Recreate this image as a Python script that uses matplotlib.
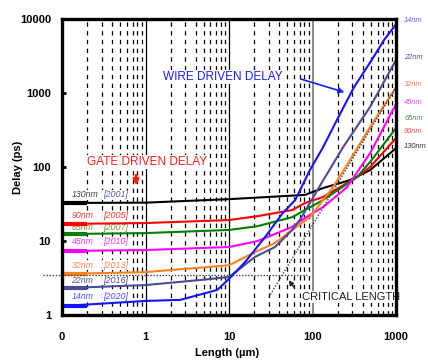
import matplotlib
matplotlib.use("Agg")
import matplotlib.pyplot as plt
import numpy as np

plt.rcParams["font.family"] = ["Liberation Sans", "DejaVu Sans"]

# wire length (um) and delay (ps), one pair per node
L_130 = [0.1, 1, 10, 81, 134, 281, 489, 1000]
D_130 = [32.7, 33, 36.8, 42, 52, 66.5, 91, 180]

L_90 = [0.1, 1, 10, 22, 57, 81, 134, 341, 489, 1000]
D_90 = [17, 17.5, 19.2, 21.7, 26.2, 32.6, 39.4, 73, 100, 246]

L_65 = [0.1, 1, 10, 22, 57, 81, 134, 341, 489, 1000]
D_65 = [12.4, 12.8, 14.1, 15.9, 21, 26.2, 35.8, 73, 117, 336]

L_45 = [0.1, 1, 10, 22, 57, 81, 134, 259, 489, 1000]
D_45 = [7.33, 7.55, 8.3, 10, 15.5, 20.5, 28.8, 53.5, 154, 710]

L_32 = [0.1, 1, 10, 20.5, 35.6, 57, 93, 176, 281, 489, 1000]
D_32 = [3.58, 3.8, 4.7, 7.1, 9.4, 14.1, 21, 53.5, 124, 348, 1200]

L_22 = [0.1, 1, 4.5, 10, 20.5, 35.6, 57, 71, 134, 232, 489, 1000]
D_22 = [2.3, 2.54, 2.97, 3.26, 6.1, 8.3, 14.1, 19.5, 66, 185, 650, 2800]

L_14 = [0.1, 1, 2.6, 7.2, 10, 15.6, 27, 44, 62, 93, 134, 213, 314, 501, 718, 1000]
D_14 = [1.32, 1.55, 1.6, 2.18, 3.07, 5.2, 11.3, 23.9, 35.8, 91, 186, 520, 1200, 2700, 5200, 8500]

nodes = ["130nm", "90nm", "65nm", "45nm", "32nm", "22nm", "14nm"]
years = ["[2001]", "[2005]", "[2007]", "[2010]", "[2013]", "[2016]", "[2020]"]
lengths = [L_130, L_90, L_65, L_45, L_32, L_22, L_14]
delays = [D_130, D_90, D_65, D_45, D_32, D_22, D_14]

# critical length guide lines
crit_L = [30, 1000]
crit_D = [1.75, 1200]
gate_level = 3.47
gate_level_end = 86

line_colors = ["black", "#ff0000", "#008000", "#ff00ff", "#ff7f1a", "#4b4b9b", "#1414ff"]
label_colors = ["#404040", "#ff3030", "#7f8a35", "#ff30ff", "#ff8050", "#505090", "#5050ff"]
year_colors = ["#5060a0", "#ff3030", "#7f8a35", "#ff30ff", "#ff8050", "#505090", "#5050ff"]
right_colors = ["#303030", "#ff4040", "#4f8f4f", "#ff40ff", "#ff8050", "#505090", "#6060ff"]

white_box = dict(facecolor="white", edgecolor="none", pad=0.6)

fig = plt.figure(figsize=(4.28, 3.6), dpi=100)
ax = fig.add_axes([0.1449, 0.125, 0.7804, 0.822])
ax.set_xscale("log")
ax.set_yscale("log")
ax.set_xlim(0.1, 1000)
ax.set_ylim(1, 10000)

# vertical grid: dashed minors, solid decades
for dec in [0.1, 1, 10, 100]:
    for k in range(2, 10):
        ax.axvline(k * dec, color="black", lw=0.9, ls=(0, (3.5, 3.5)), zorder=1)
ax.axvline(1, color="black", lw=0.9, zorder=1)
ax.axvline(10, color="black", lw=0.9, zorder=1)
ax.axvline(100, color="#808080", lw=1.3, zorder=1)

for L, D, c in zip(lengths, delays, line_colors):
    ax.plot(L, D, color=c, lw=1.5, zorder=3)
    ax.plot([0.1, 0.2], [D[0], D[0]], color=c, lw=3, zorder=3, solid_capstyle="butt")

ax.plot(crit_L, crit_D, color="#404040", lw=1.0, ls=(0, (1, 1.2)), zorder=4)
ax.plot([0.059, gate_level_end], [gate_level, gate_level], color="#404040", lw=1.0,
        ls=(0, (1, 1.2)), zorder=4, clip_on=False)

# curve labels at the left
left_y = [41.9, 21.8, 15.4, 9.7, 4.74, 2.97, 1.8]
for n, yr, yv, c1, c2 in zip(nodes, years, left_y, label_colors, year_colors):
    ax.text(0.13, yv, n, color=c1, fontsize=6.3, style="italic", va="center",
            zorder=2, bbox=white_box)
    ax.text(0.31, yv, yr, color=c2, fontsize=6.5, style="italic", va="center",
            zorder=2, bbox=white_box)

# curve labels at the right
right_y = [192, 306, 459, 755, 1320, 3065, 9700]
for n, yv, c in zip(nodes, right_y, right_colors):
    ax.text(1250, yv, n, color=c, fontsize=5.4, style="italic", va="center",
            clip_on=False)

ax.text(1.62, 1645, "WIRE DRIVEN DELAY", color="#1a1aff", fontsize=8.5, va="center",
        zorder=2, bbox=white_box)
ax.annotate("", xy=(259, 1000), xytext=(67, 1590),
            arrowprops=dict(arrowstyle="-|>", color="#1a1aff", lw=1.2, mutation_scale=8))

ax.text(0.2, 117, "GATE DRIVEN DELAY", color="#ff1a1a", fontsize=8.5, va="center",
        zorder=2, bbox=white_box)
ax.annotate("", xy=(0.77, 52), xytext=(0.77, 85),
            arrowprops=dict(arrowstyle="-|>", color="#ff1a1a", lw=1.8, mutation_scale=8))

ax.text(75, 1.75, "CRITICAL LENGTH", color="#202020", fontsize=8, va="center",
        zorder=2, bbox=white_box)
ax.annotate("", xy=(49.5, 3.16), xytext=(63.4, 2.18),
            arrowprops=dict(arrowstyle="-|>", color="#202020", lw=1.0, mutation_scale=7))

ax.set_xticks([0.1, 1, 10, 100, 1000])
ax.set_xticklabels(["0", "1", "10", "100", "1000"])
ax.set_yticks([1, 10, 100, 1000, 10000])
ax.set_yticklabels(["1", "10", "100", "1000", "10000"])
ax.minorticks_off()
ax.tick_params(axis="x", length=0, pad=12, labelsize=8)
ax.tick_params(axis="y", direction="in", length=3, width=2, pad=8, labelsize=8)
for lab in ax.get_xticklabels() + ax.get_yticklabels():
    lab.set_fontweight("bold")

for sp in ax.spines.values():
    sp.set_linewidth(2.4)
    sp.set_zorder(6)

fig.text(0.042, 0.535, "Delay (ps)", rotation=90, fontsize=8, fontweight="bold",
         ha="center", va="center")
fig.text(0.53, 0.02, "Length (\u00b5m)", fontsize=8, fontweight="bold",
         ha="center", va="center")

fig.savefig("out.png", dpi=100)
